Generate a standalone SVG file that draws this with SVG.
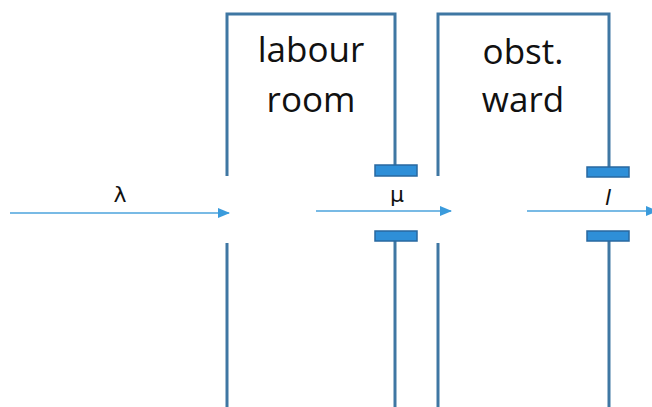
<svg xmlns="http://www.w3.org/2000/svg" width="652" height="407" viewBox="0 0 652 407">
<style>
.wall{fill:none;stroke:#3F77A3;stroke-width:3}
.gate{fill:#2E8FD8;stroke:#2868A0;stroke-width:1.5}
.flow{stroke:#4BA3DC;stroke-width:1.6;fill:none}
.lbl{font-family:"Open Sans","Liberation Sans",sans-serif;font-size:35px;fill:#111;text-anchor:middle}
.sym{font-family:"DejaVu Sans","Liberation Sans",sans-serif;font-size:22px;fill:#111;text-anchor:middle}
</style>
<defs>
<marker id="ah" viewBox="0 0 12 10" refX="11" refY="5" markerWidth="12" markerHeight="10" markerUnits="userSpaceOnUse" orient="auto">
<path d="M0,0 L12,5 L0,10 z" fill="#3A9BDC"/>
</marker>
</defs>
<g id="labour-room">
<path class="wall" d="M227,176 V14 H395 V166"/>
<path class="wall" d="M227,243 V407"/>
<path class="wall" d="M395,241 V407"/>
<rect class="gate" x="375" y="165" width="42" height="11"/>
<rect class="gate" x="375" y="231" width="42" height="10"/>
<text class="lbl" x="311" y="62">labour</text>
<text class="lbl" x="311" y="112">room</text>
</g>
<g id="obst-ward">
<path class="wall" d="M438,176 V14 H609 V167"/>
<path class="wall" d="M438,243 V407"/>
<path class="wall" d="M609,241 V407"/>
<rect class="gate" x="587" y="167" width="42" height="10"/>
<rect class="gate" x="587" y="231" width="42" height="10"/>
<text class="lbl" x="523" y="64">obst.</text>
<text class="lbl" x="523" y="112">ward</text>
</g>
<g id="connectors">
<line class="flow" x1="10" y1="213" x2="229" y2="213" marker-end="url(#ah)"/>
<line class="flow" x1="316" y1="211" x2="451" y2="211" marker-end="url(#ah)"/>
<line class="flow" x1="527" y1="211" x2="657" y2="211" marker-end="url(#ah)"/>
<text class="sym" x="120" y="202">λ</text>
<text class="sym" x="397" y="202">μ</text>
<text class="sym" x="608" y="205" font-style="italic">l</text>
</g>
</svg>
